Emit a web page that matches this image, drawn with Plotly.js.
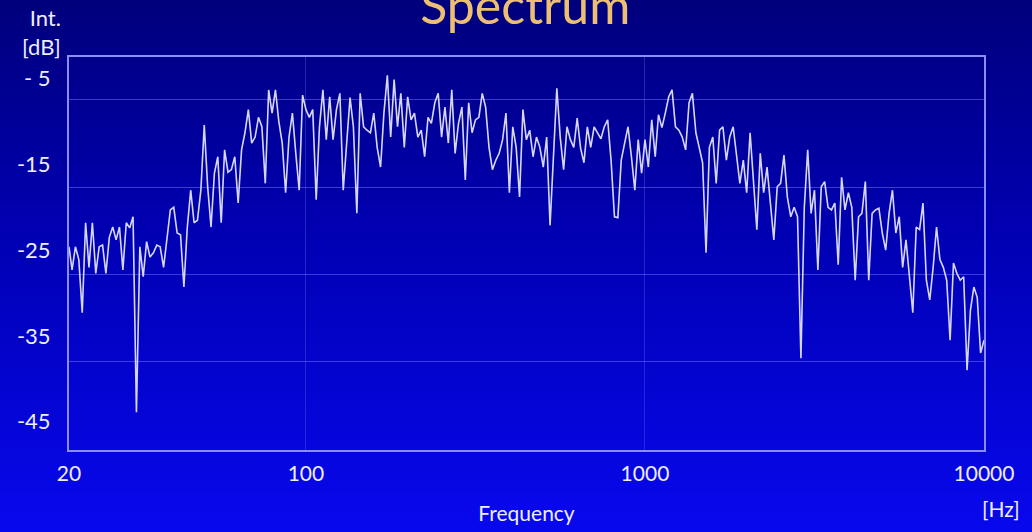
<!DOCTYPE html>
<html>
<head>
<meta charset="utf-8">
<script src="https://cdn.plot.ly/plotly-3.0.1.min.js"></script>
<style>
  html, body { margin: 0; padding: 0; width: 1032px; height: 532px; overflow: hidden; }
  body { background: linear-gradient(to bottom, #00007c 0%, #0000b4 45%, #0808ee 100%); }
  #chart { width: 1032px; height: 532px; }
</style>
</head>
<body>
<div id="chart"></div>
<script>
// Frequencies (Hz) and intensities (dB), one decade per array
var freq20to100 = [20, 20.42, 20.89, 21.38, 21.88, 22.39, 22.91, 23.44, 23.99, 24.55,
  25.12, 25.70, 26.30, 26.92, 27.54, 28.18, 28.84, 29.51, 30.20, 30.90,
  31.62, 32.36, 33.11, 33.88, 34.67, 35.48, 36.31, 37.15, 38.02, 38.90,
  39.81, 40.74, 41.69, 42.66, 43.65, 44.67, 45.71, 46.77, 47.86, 48.98,
  50.12, 51.29, 52.48, 53.70, 54.95, 56.23, 57.54, 58.88, 60.26, 61.66,
  63.10, 64.57, 66.07, 67.61, 69.18, 70.79, 72.44, 74.13, 75.86, 77.62,
  79.43, 81.28, 83.18, 85.11, 87.10, 89.13, 91.20, 93.33, 95.50, 97.72];
var db20to100 = [-24.6, -27.3, -24.6, -26.1, -32.3, -21.8, -27.0, -21.8, -27.7, -24.6,
  -24.4, -27.7, -23.5, -22.3, -23.8, -22.3, -27.3, -21.8, -22.4, -21.1,
  -43.9, -24.6, -28.1, -24.0, -25.8, -25.3, -24.4, -24.6, -27.0, -23.8,
  -20.3, -20.0, -23.0, -23.2, -29.3, -22.3, -18.0, -21.8, -21.5, -18.0,
  -10.4, -17.6, -22.3, -16.0, -14.1, -21.8, -13.3, -15.9, -15.6, -14.1,
  -19.5, -13.3, -11.3, -8.6, -12.5, -11.8, -9.5, -10.6, -17.2, -6.3,
  -9.0, -6.3, -10.0, -12.5, -18.3, -11.8, -9.0, -13.7, -18.0, -6.9];

var freq100to1000 = [100, 102.3, 104.7, 107.2, 109.6, 112.2, 114.8, 117.5, 120.2, 123.0,
  125.9, 128.8, 131.8, 134.9, 138.0, 141.3, 144.5, 147.9, 151.4, 154.9,
  158.5, 162.2, 166.0, 169.8, 173.8, 177.8, 182.0, 186.2, 190.5, 195.0,
  199.5, 204.2, 208.9, 213.8, 218.8, 223.9, 229.1, 234.4, 239.9, 245.5,
  251.2, 257.0, 263.0, 269.2, 275.4, 281.8, 288.4, 295.1, 302.0, 309.0,
  316.2, 323.6, 331.1, 338.8, 346.7, 354.8, 363.1, 371.5, 380.2, 389.0,
  398.1, 407.4, 416.9, 426.6, 436.5, 446.7, 457.1, 467.7, 478.6, 489.8,
  501.2, 512.9, 524.8, 537.0, 549.5, 562.3, 575.4, 588.8, 602.6, 616.6,
  631.0, 645.7, 660.7, 676.1, 691.8, 707.9, 724.4, 741.3, 758.6, 776.2,
  794.3, 812.8, 831.8, 851.1, 871.0, 891.3, 912.0, 933.3, 955.0, 977.2];
var db100to1000 = [-8.6, -9.5, -8.6, -19.1, -10.6, -6.3, -12.1, -7.1, -12.1, -8.6,
  -6.7, -18.0, -12.5, -7.2, -10.6, -20.7, -6.7, -10.6, -11.0, -11.3,
  -9.0, -13.0, -15.3, -9.0, -4.6, -11.8, -5.1, -10.6, -6.7, -13.0,
  -7.1, -9.8, -9.0, -11.8, -11.0, -14.1, -9.5, -10.2, -7.8, -6.7,
  -11.8, -8.3, -12.5, -6.3, -13.7, -10.2, -8.3, -16.8, -7.8, -11.3,
  -9.8, -9.5, -6.7, -8.3, -13.0, -15.6, -14.5, -13.7, -12.1, -9.0,
  -18.3, -10.6, -13.0, -18.8, -8.6, -12.1, -11.0, -14.1, -11.8, -13.0,
  -15.3, -11.8, -22.1, -13.7, -6.1, -11.8, -15.6, -10.6, -12.1, -13.0,
  -9.6, -13.1, -14.8, -10.6, -13.0, -10.6, -11.3, -12.0, -10.6, -9.8,
  -14.5, -21.1, -21.2, -14.5, -12.5, -10.6, -14.1, -18.0, -12.1, -16.0];

var freq1000to10000 = [1000, 1023, 1047, 1072, 1096, 1122, 1148, 1175, 1202, 1230,
  1259, 1288, 1318, 1349, 1380, 1413, 1445, 1479, 1514, 1549,
  1585, 1622, 1660, 1698, 1738, 1778, 1820, 1862, 1905, 1950,
  1995, 2042, 2089, 2138, 2188, 2239, 2291, 2344, 2399, 2455,
  2512, 2570, 2630, 2692, 2754, 2818, 2884, 2951, 3020, 3090,
  3162, 3236, 3311, 3388, 3467, 3548, 3631, 3715, 3802, 3890,
  3981, 4074, 4169, 4266, 4365, 4467, 4571, 4677, 4786, 4898,
  5012, 5129, 5248, 5370, 5495, 5623, 5754, 5888, 6026, 6166,
  6310, 6457, 6607, 6761, 6918, 7079, 7244, 7413, 7586, 7762,
  7943, 8128, 8318, 8511, 8710, 8913, 9120, 9333, 9550, 9772, 10000];
var db1000to10000 = [-12.1, -15.3, -9.8, -14.1, -9.2, -10.7, -9.0, -7.1, -6.3, -10.6,
  -11.0, -11.8, -13.3, -7.8, -6.7, -11.3, -13.0, -14.8, -25.3, -13.0,
  -11.8, -17.2, -11.0, -10.6, -14.5, -11.8, -10.6, -13.7, -17.2, -14.5,
  -18.3, -11.3, -17.2, -22.6, -13.7, -18.3, -15.3, -19.1, -23.8, -17.6,
  -17.2, -13.9, -18.8, -21.1, -20.0, -21.1, -37.6, -20.0, -13.3, -20.7,
  -18.0, -27.3, -17.6, -17.0, -20.0, -20.3, -19.5, -26.7, -16.5, -20.3,
  -18.3, -20.0, -28.5, -21.1, -20.7, -17.0, -28.5, -20.7, -20.3, -20.1,
  -23.0, -25.0, -20.7, -18.0, -23.0, -21.1, -27.0, -23.8, -27.7, -32.3,
  -22.3, -22.6, -19.5, -28.5, -30.8, -27.0, -22.3, -26.1, -27.0, -28.5,
  -35.5, -26.5, -27.7, -28.5, -28.1, -39.0, -32.0, -29.3, -30.5, -37.0, -35.5];

var xTickVals = [20, 100, 1000, 10000];
var xTickText = ['20', '100', '1000', '10000'];
var yTickVals = [-5, -15, -25, -35, -45];
var yTickText = ['- 5', '-15', '-25', '-35', '-45'];
var gridVals = [-10, -20, -30, -40];

var freqs = freq20to100.concat(freq100to1000, freq1000to10000);
var dbs = db20to100.concat(db100to1000, db1000to10000);

var fontFam = 'Lato, "Open Sans", sans-serif';
var lineCol = '#8c8cff';
var textCol = '#eeeeff';

var traces = [{
  x: freqs, y: dbs, type: 'scatter', mode: 'lines',
  line: { color: '#d6d6ff', width: 1.6 },
  hoverinfo: 'x+y', showlegend: false
}, {
  x: [], y: [], xaxis: 'x', yaxis: 'y2', type: 'scatter', mode: 'lines',
  showlegend: false, hoverinfo: 'skip'
}];

var layout = {
  width: 1032, height: 532,
  margin: { l: 69, r: 48, t: 57, b: 82 },
  paper_bgcolor: 'rgba(0,0,0,0)',
  plot_bgcolor: 'rgba(0,0,0,0)',
  showlegend: false,
  font: { family: fontFam, color: textCol },
  title: {
    text: 'Spectrum',
    font: { family: fontFam, size: 50, color: '#ecc070' },
    xref: 'container', x: 0.509, xanchor: 'center',
    yref: 'container', y: 0.988, yanchor: 'middle'
  },
  xaxis: {
    type: 'log',
    range: [Math.log10(20), 4],
    tickvals: xTickVals, ticktext: xTickText,
    tickfont: { size: 21, color: textCol },
    ticks: '', ticklabelstandoff: 4,
    showgrid: true, gridcolor: 'rgba(120,120,255,0.3)', gridwidth: 1,
    showline: true, linecolor: lineCol, linewidth: 2, mirror: true,
    zeroline: false,
    title: { text: 'Frequency', font: { size: 21, color: textCol }, standoff: 22 },
    automargin: false
  },
  yaxis: {
    range: [-48.31, -2.46],
    tickvals: yTickVals, ticktext: yTickText,
    tickfont: { size: 22, color: textCol },
    ticks: '', ticklabelstandoff: 12,
    showgrid: false, zeroline: false,
    showline: true, linecolor: lineCol, linewidth: 2, mirror: true,
    automargin: false
  },
  yaxis2: {
    overlaying: 'y', side: 'left',
    range: [-50.08, -5.08],
    tickvals: gridVals, showticklabels: false, ticks: '',
    showgrid: true, gridcolor: 'rgba(120,120,255,0.5)', gridwidth: 1,
    zeroline: false, showline: false
  },
  annotations: [{
    text: 'Int.<br>[dB]', xref: 'paper', yref: 'paper',
    x: -0.0066, y: 1.064, xanchor: 'right', yanchor: 'middle', align: 'right',
    showarrow: false, font: { family: fontFam, size: 22, color: textCol }
  }, {
    text: '[Hz]', xref: 'paper', yref: 'paper',
    x: 1.0186, y: -0.1476, xanchor: 'center', yanchor: 'middle',
    showarrow: false, font: { family: fontFam, size: 21, color: textCol }
  }]
};

Plotly.newPlot('chart', traces, layout, { displayModeBar: false, staticPlot: true });
</script>
</body>
</html>
